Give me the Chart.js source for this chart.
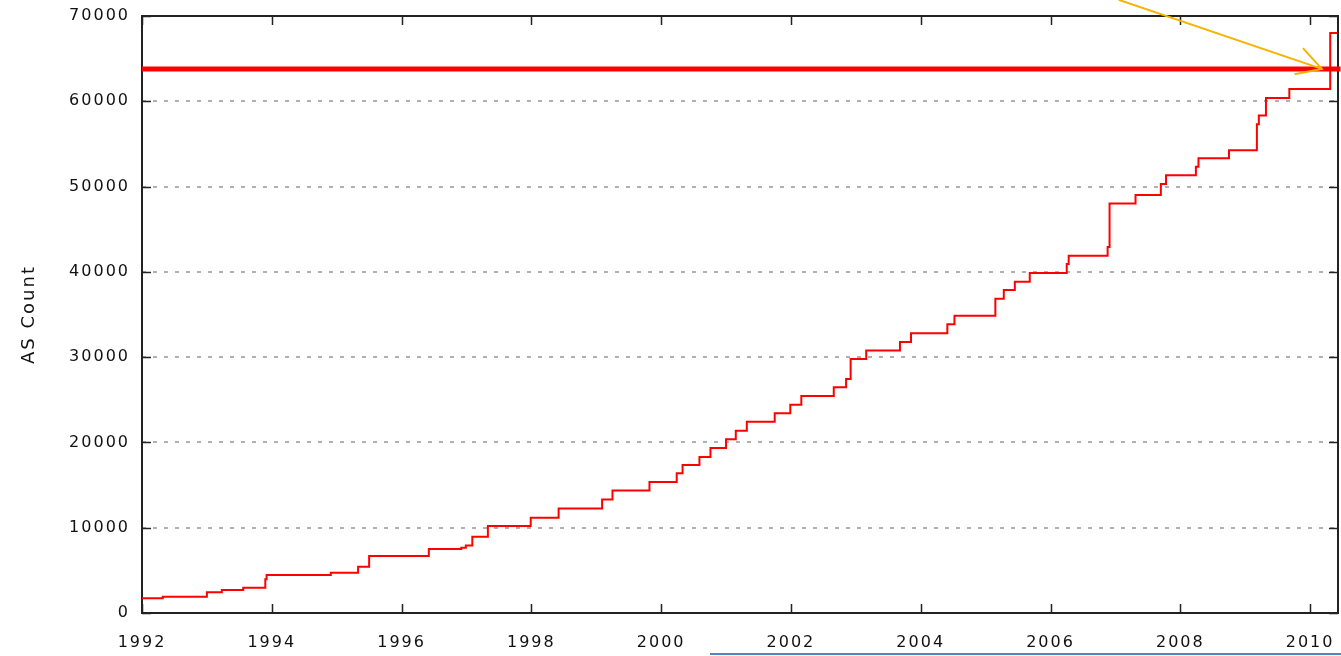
<!DOCTYPE html>
<html>
<head>
<meta charset="utf-8">
<title>AS Count</title>
<script src="https://cdn.jsdelivr.net/npm/chart.js@4.4.0/dist/chart.umd.min.js"></script>
<style>
  html, body { margin: 0; padding: 0; background: #fff; }
  #wrap { position: relative; width: 1341px; height: 656px; overflow: hidden; }
  canvas { display: block; }
  #underline { position: absolute; left: 710px; top: 653px; width: 631px; height: 2px; background: #5a82c0; }
</style>
</head>
<body>
<div id="wrap">
  <canvas id="c" width="1341" height="656"></canvas>
  <div id="underline"></div>
</div>
<script>
// Dates (decimal years) at which the AS count changes, and the new count from that date on
const stepYears = [1992.00, 1992.32, 1993.00, 1993.23, 1993.56, 1993.90, 1993.92, 1994.91, 1995.33, 1995.50,
  1996.42, 1996.92, 1996.99, 1997.09, 1997.33, 1997.99, 1998.42, 1999.09, 1999.25, 1999.82,
  2000.24, 2000.33, 2000.59, 2000.76, 2001.00, 2001.15, 2001.32, 2001.75, 2001.99, 2002.16,
  2002.66, 2002.85, 2002.92, 2003.16, 2003.68, 2003.85, 2004.41, 2004.52, 2005.15, 2005.28,
  2005.45, 2005.68, 2006.25, 2006.28, 2006.88, 2006.91, 2007.31, 2007.70, 2007.78, 2008.24,
  2008.28, 2008.75, 2009.18, 2009.21, 2009.32, 2009.68, 2010.31, 2010.42];
const asCounts = [1720, 1910, 2430, 2700, 2970, 3950, 4460, 4730, 5430, 6690,
  7510, 7660, 7900, 8950, 10200, 11180, 12250, 13300, 14350, 15350,
  16390, 17360, 18300, 19350, 20370, 21380, 22420, 23420, 24420, 25440,
  26470, 27450, 29780, 30770, 31770, 32810, 33860, 34860, 36850, 37870,
  38850, 39870, 40920, 41880, 42900, 48020, 49020, 50300, 51320, 52320,
  53330, 54270, 57320, 58330, 60380, 61430, 68000, 68000];

// Horizontal limit line
const limitYears = [1992, 2010.47];
const limitValue = 63800;

// Pointer arrow: shaft and head
const arrowShaftYears = [2007.05, 2010.18];
const arrowShaftValues = [71900, 63800];
const arrowHeadYears = [2009.89, 2010.18, 2009.76];
const arrowHeadValues = [66230, 63800, 63180];

// Axis ticks
const xTickYears = [1992, 1994, 1996, 1998, 2000, 2002, 2004, 2006, 2008, 2010];
const yTickValues = [0, 10000, 20000, 30000, 40000, 50000, 60000, 70000];

const xMin = 1992, xMax = 2010.43, yMin = 0, yMax = 70000;

const pts = (xs, ys) => xs.map((x, i) => ({ x: x, y: ys[i] }));

const LETTER_SPACING = '2px';

// Gnuplot-style frame: box around the plot and inward tick marks on all four sides
const framePlugin = {
  id: 'frame',
  beforeUpdate(chart) { chart.ctx.letterSpacing = LETTER_SPACING; },
  beforeLayout(chart) { chart.ctx.letterSpacing = LETTER_SPACING; },
  beforeDraw(chart) { chart.ctx.letterSpacing = LETTER_SPACING; },
  beforeDatasetsDraw(chart) {
    const { ctx, chartArea: a, scales: { x, y } } = chart;
    const L = 9;
    ctx.save();
    ctx.strokeStyle = '#222';
    ctx.lineWidth = 1.5;
    ctx.beginPath();
    y.ticks.forEach(t => {
      const py = Math.round(y.getPixelForValue(t.value)) + 0.5;
      ctx.moveTo(a.left, py); ctx.lineTo(a.left + L, py);
      ctx.moveTo(a.right, py); ctx.lineTo(a.right - L, py);
    });
    x.ticks.forEach(t => {
      const px = Math.round(x.getPixelForValue(t.value)) + 0.5;
      ctx.moveTo(px, a.bottom); ctx.lineTo(px, a.bottom - L);
      ctx.moveTo(px, a.top); ctx.lineTo(px, a.top + L);
    });
    ctx.stroke();
    ctx.lineWidth = 2;
    ctx.strokeRect(a.left, a.top, a.right - a.left, a.bottom - a.top);
    ctx.restore();
  }
};

const tickFont = { family: "'DejaVu Sans', sans-serif", size: 16 };
const titleFont = { family: "'DejaVu Sans', sans-serif", size: 18 };

new Chart(document.getElementById('c'), {
  type: 'line',
  data: {
    datasets: [
      {
        label: 'AS Count',
        data: pts(stepYears, asCounts),
        stepped: true,
        borderColor: '#ff0000',
        borderWidth: 2,
        pointRadius: 0,
        fill: false,
        order: 2
      },
      {
        label: 'limit',
        data: pts(limitYears, [limitValue, limitValue]),
        borderColor: '#ff0000',
        borderWidth: 5,
        pointRadius: 0,
        fill: false,
        clip: false,
        order: 1
      },
      {
        label: 'arrow',
        data: pts(arrowShaftYears, arrowShaftValues),
        borderColor: '#f5b400',
        borderWidth: 2,
        pointRadius: 0,
        fill: false,
        clip: false,
        order: 0
      },
      {
        label: 'arrow head',
        data: pts(arrowHeadYears, arrowHeadValues),
        borderColor: '#f5b400',
        borderWidth: 2,
        pointRadius: 0,
        fill: false,
        clip: false,
        order: 0
      }
    ]
  },
  options: {
    responsive: false,
    animation: false,
    events: [],
    layout: { padding: { top: 16, right: 3, left: 8, bottom: 4 } },
    plugins: { legend: { display: false }, tooltip: { enabled: false } },
    scales: {
      x: {
        type: 'linear',
        min: xMin,
        max: xMax,
        afterBuildTicks(s) { s.ticks = xTickYears.map(v => ({ value: v })); },
        afterFit(s) { s.height = 39; s.paddingLeft = 0; s.paddingRight = 0; },
        grid: { display: false, drawTicks: false },
        border: { display: false },
        ticks: {
          padding: 20,
          color: '#111',
          font: tickFont,
          autoSkip: false,
          maxRotation: 0,
          callback: v => String(v)
        }
      },
      y: {
        type: 'linear',
        min: yMin,
        max: yMax,
        afterBuildTicks(s) { s.ticks = yTickValues.map(v => ({ value: v })); },
        afterFit(s) { s.width = 134; s.paddingTop = 0; s.paddingBottom = 0; },
        grid: {
          drawTicks: false,
          lineWidth: 2,
          color: c => (c.tick && (c.tick.value === yMin || c.tick.value === yMax)) ? 'rgba(0,0,0,0)' : '#b0b0b0'
        },
        border: { display: false, dash: [4, 7] },
        ticks: {
          padding: 12,
          color: '#111',
          font: tickFont,
          callback: v => String(v)
        },
        title: {
          display: true,
          text: 'AS Count',
          color: '#111',
          font: titleFont,
          padding: { top: 11, bottom: 18 }
        }
      }
    }
  },
  plugins: [framePlugin]
});
</script>
</body>
</html>
